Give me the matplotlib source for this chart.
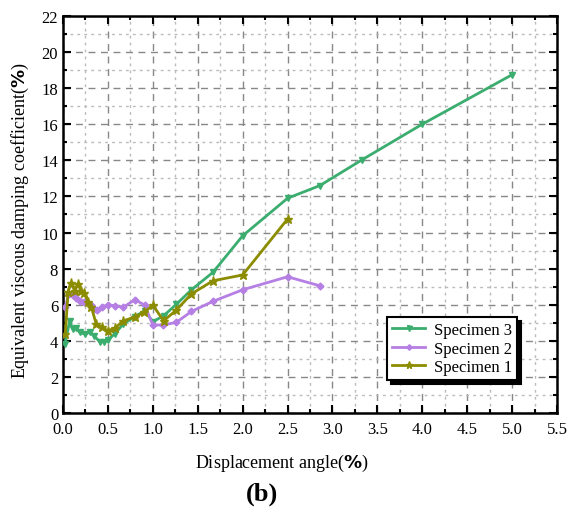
import matplotlib
matplotlib.use("Agg")
import matplotlib.pyplot as plt
import matplotlib.ticker as ticker

plt.rcParams['font.family'] = ['Liberation Serif', 'DejaVu Serif']
plt.rcParams['mathtext.fontset'] = 'dejavusans'

# data
s3_x = [0.02, 0.074, 0.11, 0.15, 0.185, 0.24, 0.3, 0.345, 0.41, 0.46, 0.5, 0.575, 0.67,
        0.8, 0.91, 1.0, 1.12, 1.26, 1.43, 1.67, 2.0, 2.5, 2.86, 3.33, 4.0, 5.0]
s3_y = [3.8, 5.08, 4.65, 4.69, 4.47, 4.38, 4.47, 4.28, 3.95, 3.95, 4.06, 4.38, 4.93,
        5.35, 5.67, 5.06, 5.39, 6.02, 6.83, 7.8, 9.82, 11.9, 12.6, 14.03, 16.0, 18.74]

s2_x = [0.026, 0.063, 0.11, 0.15, 0.185, 0.23, 0.315, 0.35, 0.38, 0.43, 0.5, 0.575, 0.67,
        0.8, 0.91, 1.0, 1.11, 1.26, 1.43, 1.67, 2.0, 2.5, 2.86]
s2_y = [5.86, 6.6, 6.54, 6.4, 6.22, 6.13, 5.98, 5.76, 5.72, 5.86, 6.0, 5.95, 5.86,
        6.28, 5.98, 4.88, 4.88, 5.02, 5.63, 6.19, 6.83, 7.55, 7.05]

s1_x = [0.026, 0.056, 0.09, 0.13, 0.167, 0.2, 0.234, 0.28, 0.315, 0.37, 0.43, 0.5, 0.575,
        0.67, 0.8, 0.9, 1.0, 1.12, 1.26, 1.43, 1.67, 2.0, 2.5]
s1_y = [4.38, 6.72, 7.2, 6.78, 7.15, 6.78, 6.65, 6.15, 5.87, 4.93, 4.76, 4.56, 4.7,
        5.11, 5.32, 5.58, 5.98, 5.11, 5.7, 6.6, 7.33, 7.65, 10.75]

fig = plt.figure(figsize=(5.74, 5.10), dpi=100)
ax = fig.add_axes([0.1098, 0.188, 0.8606, 0.779])

ax.plot(s3_x, s3_y, color='#3aad6f', lw=2, marker='v', ms=4.5, label='Specimen 3', zorder=3)
ax.plot(s2_x, s2_y, color='#b57fe4', lw=2, marker='D', ms=3.5, label='Specimen 2', zorder=3)
ax.plot(s1_x, s1_y, color='#8c8c00', lw=2, marker='*', ms=6.5, label='Specimen 1', zorder=3)

ax.set_xlim(0, 5.5)
ax.set_ylim(0, 22)
ax.xaxis.set_major_locator(ticker.MultipleLocator(0.5))
ax.xaxis.set_minor_locator(ticker.MultipleLocator(0.25))
ax.yaxis.set_major_locator(ticker.MultipleLocator(2))
ax.yaxis.set_minor_locator(ticker.MultipleLocator(1))
ax.xaxis.set_major_formatter(ticker.FormatStrFormatter('%.1f'))

ax.grid(which='major', color='#888888', ls=(0, (5, 4)), lw=1)
ax.grid(which='minor', color='#bbbbbb', ls=(0, (2, 3)), lw=1)
ax.set_axisbelow(True)

ax.tick_params(which='both', direction='in', top=True, right=True, width=1.5, labelsize=12)
ax.tick_params(which='major', length=6)
ax.tick_params(which='minor', length=3)
ax.tick_params(axis='x', pad=6)
for sp in ax.spines.values():
    sp.set_linewidth(1.8)

leg = ax.legend(loc='lower left', bbox_to_anchor=(0.656, 0.083), borderaxespad=0,
                fontsize=12, fancybox=False, edgecolor='black', framealpha=1,
                shadow={'color': 'black', 'alpha': 1, 'ox': 3, 'oy': -3},
                handlelength=2.0, labelspacing=0.15, borderpad=0.3, handletextpad=0.5,
                markerscale=0.8)
leg.get_frame().set_linewidth(1.5)

fig.text(282 / 574, 1 - 463 / 510, r'Displacement angle($\mathbf{\%}$)',
         ha='center', va='center', fontsize=13)
fig.text(20 / 574, 1 - 221 / 510, r'Equivalent viscous damping coefficient($\mathbf{\%}$)',
         ha='center', va='center', rotation=90, fontsize=13)
fig.text(262 / 574, 1 - 494 / 510, '(b)', ha='center', va='center',
         fontsize=19, fontweight='bold')

fig.savefig('out.png', dpi=100)
